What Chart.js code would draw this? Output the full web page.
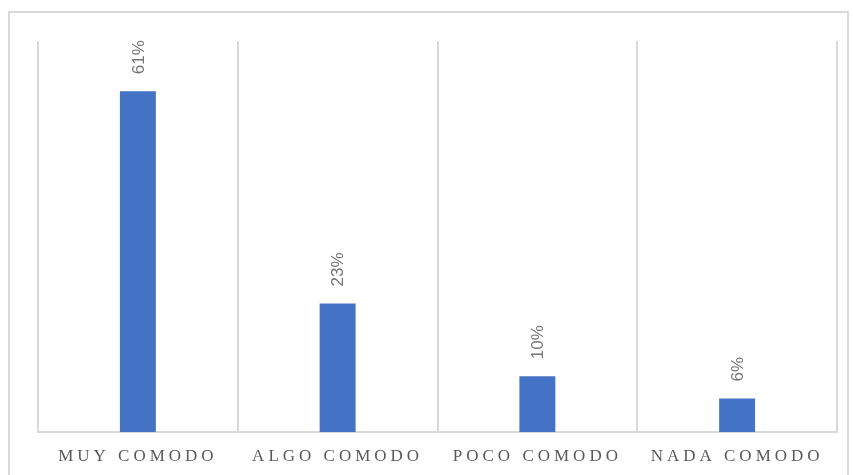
<!DOCTYPE html>
<html>
<head>
<meta charset="utf-8">
<script src="https://cdn.jsdelivr.net/npm/chart.js@4.4.1/dist/chart.umd.min.js"></script>
<style>
    html, body { margin: 0; padding: 0; background: #fff; }
    #wrap { position: relative; width: 853px; height: 475px; overflow: hidden; }
    #frame { position: absolute; left: 8px; top: 11px; width: 841px; height: 480px; border: 2px solid #d9d9d9; box-sizing: border-box; }
    #chart { position: absolute; left: 0; top: 0; }
</style>
</head>
<body>
<div id="wrap">
    <div id="frame"></div>
    <canvas id="chart" width="853" height="475"></canvas>
</div>
<script>
//categories and values (percent)
var categories = ["MUY COMODO", "ALGO COMODO", "POCO COMODO", "NADA COMODO"];
var values = [61, 23, 10, 6];
var valueLabels = ["61%", "23%", "10%", "6%"];

//draw the rotated value labels above each bar
var barLabels = {
    id: 'barLabels',
    beforeDraw: function (chart) {
        chart.ctx.letterSpacing = '4px';
    },
    afterDatasetsDraw: function (chart) {
        var ctx = chart.ctx;
        var meta = chart.getDatasetMeta(0);
        ctx.save();
        ctx.letterSpacing = '0px';
        ctx.font = '17px "Liberation Sans", Arial, sans-serif';
        ctx.fillStyle = '#757575';
        ctx.textAlign = 'left';
        ctx.textBaseline = 'middle';
        for (var i = 0; i < meta.data.length; i++) {
            var bar = meta.data[i];
            ctx.save();
            ctx.translate(bar.x + 1, bar.y - 17);
            ctx.rotate(-Math.PI / 2);
            ctx.fillText(valueLabels[i], 0, 0);
            ctx.restore();
        }
        ctx.restore();
    }
};

new Chart(document.getElementById('chart'), {
    type: 'bar',
    data: {
        labels: categories,
        datasets: [{
            data: values,
            backgroundColor: '#4472C4',
            borderWidth: 0,
            categoryPercentage: 1,
            barPercentage: 0.18
        }]
    },
    options: {
        responsive: false,
        animation: false,
        layout: {
            padding: { left: 38, right: 16, top: 41, bottom: 10 }
        },
        plugins: {
            legend: { display: false },
            tooltip: { enabled: false }
        },
        scales: {
            x: {
                afterFit: function (axis) { axis.height = 33; },
                grid: { color: '#d9d9d9', lineWidth: 2, drawTicks: false, offset: true },
                border: { color: '#d9d9d9', width: 2 },
                ticks: {
                    color: '#595959',
                    padding: 14,
                    maxRotation: 0,
                    autoSkip: false,
                    font: { family: '"Liberation Serif", "Times New Roman", serif', size: 17 }
                }
            },
            y: {
                display: false,
                min: 0,
                max: 70
            }
        }
    },
    plugins: [barLabels]
});
</script>
</body>
</html>
